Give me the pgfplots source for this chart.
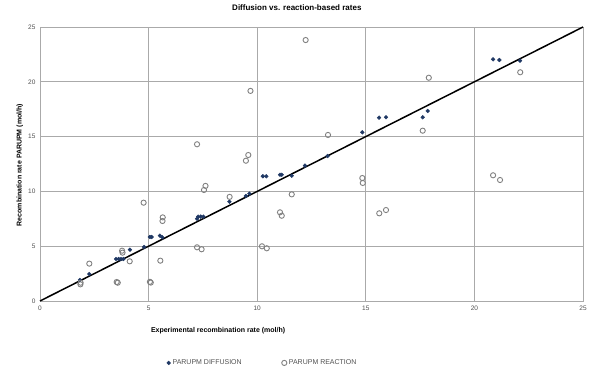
\documentclass[border=0pt]{standalone}
\usepackage{pgfplots}
\pgfplotsset{compat=1.18}
\usepackage{fontspec}
\setmainfont{Liberation Sans}
\definecolor{dblue}{RGB}{31,56,100}
\definecolor{ggray}{RGB}{128,128,128}
\definecolor{gridc}{RGB}{170,170,170}
\definecolor{tickc}{RGB}{80,80,80}
\begin{document}
\begin{tikzpicture}
\begin{axis}[
  anchor=south west,
  scale only axis, width=543pt, height=274pt,
  xmin=0, xmax=25, ymin=0, ymax=25,
  xtick={0,5,...,25}, ytick={0,5,...,25},
  grid=major,
  major grid style={gridc, line width=0.8pt},
  axis line style={gridc, line width=0.8pt},
  tick style={draw=none},
  ticklabel style={font=\fontsize{6.5}{7}\selectfont, text=tickc},
  /pgf/number format/assume math mode=true,
  xticklabel style={yshift=-1pt},
  yticklabel style={xshift=-1pt},
  xlabel={\textbf{Experimental recombination rate (mol/h)}},
  xlabel style={font=\fontsize{7}{8}\selectfont, at={(0.328,-0.109)}, anchor=center},
  ylabel={\textbf{Recombination rate PARUPM  (mol/h)}},
  ylabel style={font=\fontsize{7}{8}\selectfont, at={(-0.037,0.496)}, anchor=center},
  legend columns=2,
  legend style={draw=none, fill=none, at={(0.41,-0.226)}, anchor=center,
    font=\fontsize{7}{8}\selectfont, text=tickc,
    /tikz/every even column/.append style={column sep=38pt}},
  legend cell align=left,
  clip=false,
]
\addplot[only marks, mark=*, mark size=1.9pt, color=dblue] coordinates {
(1.84,1.92) (2.27,2.46) (3.50,3.83) (3.62,3.83) (3.73,3.83) (3.84,3.83)
(4.14,4.68) (4.79,4.93) (5.06,5.84) (5.14,5.84) (5.52,5.96) (5.63,5.81)
(7.23,7.50) (7.28,7.70) (7.40,7.70) (7.52,7.70) (8.72,9.06)
(9.48,9.58) (9.64,9.80) (10.26,11.38) (10.42,11.38) (11.05,11.52) (11.13,11.52)
(11.59,11.43) (12.20,12.35) (13.24,13.23) (14.84,15.39)
(15.61,16.73) (15.93,16.76) (17.62,16.76) (17.85,17.34)
(20.86,22.05) (21.15,21.99) (22.10,21.93)
};
\addlegendentry{PARUPM DIFFUSION}
\addplot[only marks, mark=o, mark size=2.6pt, line width=0.9pt, color=ggray] coordinates {
(1.87,1.67) (1.86,1.52) (2.27,3.41) (3.53,1.73) (3.58,1.67)
(3.78,4.59) (3.80,4.41) (4.13,3.62) (4.77,8.97) (5.06,1.75) (5.10,1.68)
(5.54,3.68) (5.65,7.63) (5.64,7.30) (7.23,14.30) (7.23,4.90) (7.44,4.72)
(7.55,10.13) (7.62,10.50) (8.73,9.50) (9.48,12.80) (9.59,13.32) (9.69,19.17)
(10.22,4.99) (10.44,4.81) (11.05,8.09) (11.13,7.78) (11.59,9.73)
(12.23,23.81) (13.26,15.15) (14.84,11.22) (14.86,10.77)
(15.62,8.00) (15.93,8.30) (17.62,15.54) (17.90,20.37)
(20.86,11.47) (21.18,11.04) (22.11,20.87)
};
\addlegendentry{PARUPM REACTION}
\addplot[black, line width=1.5pt, forget plot] coordinates {(0,0) (25,25)};
\node[font=\fontsize{8}{9}\selectfont\bfseries, anchor=center] at (rel axis cs:0.473,1.069) {Diffusion vs. reaction-based rates};
\end{axis}
\pgfresetboundingbox
\path[use as bounding box] (-40pt,-73pt) rectangle (555pt,301pt);
\end{tikzpicture}
\end{document}
